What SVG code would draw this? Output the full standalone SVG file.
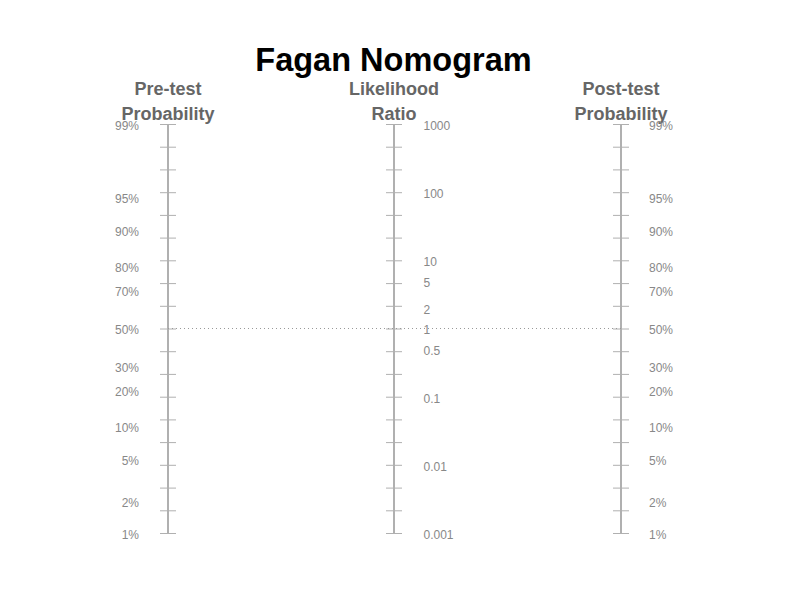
<svg xmlns="http://www.w3.org/2000/svg" width="800" height="600" viewBox="0 0 800 600">
<defs>
<style>
.axis{stroke:#b0b0b0;stroke-width:2;fill:none}
.tick{stroke:#b0b0b0;stroke-width:1;fill:none}
.lbl{font-family:"Liberation Sans",Arial,sans-serif;font-size:12px;fill:#888}
.hdr{font-family:"Liberation Sans",Arial,sans-serif;font-size:18px;font-weight:bold;fill:#666;text-anchor:middle}
.title{font-family:"Liberation Sans",Arial,sans-serif;font-size:32.5px;font-weight:bold;fill:#000;text-anchor:middle}
.dot{stroke:#999;stroke-width:1;stroke-dasharray:1,3;fill:none}
</style>
<g id="ticks">
<path class="tick" d="M-8,124.5h16M-8,147.2h16M-8,169.9h16M-8,192.7h16M-8,215.4h16M-8,238.1h16M-8,260.8h16M-8,283.6h16M-8,306.3h16M-8,329h16M-8,351.7h16M-8,374.4h16M-8,397.2h16M-8,419.9h16M-8,442.6h16M-8,465.3h16M-8,488.1h16M-8,510.8h16M-8,533.5h16"/>
<line class="axis" x1="0" y1="124" x2="0" y2="534"/>
</g>
</defs>
<text class="title" x="393.5" y="71">Fagan Nomogram</text>

<g id="pretest">
<use href="#ticks" x="168" y="0"/>
<text class="hdr" x="168" y="95">Pre-test</text>
<text class="hdr" x="168" y="120">Probability</text>
<g class="lbl" text-anchor="end">
<text x="139" y="129.5">99%</text>
<text x="139" y="202.5">95%</text>
<text x="139" y="236">90%</text>
<text x="139" y="272">80%</text>
<text x="139" y="296">70%</text>
<text x="139" y="334">50%</text>
<text x="139" y="371.5">30%</text>
<text x="139" y="395.5">20%</text>
<text x="139" y="431.5">10%</text>
<text x="139" y="465">5%</text>
<text x="139" y="507">2%</text>
<text x="139" y="538.5">1%</text>
</g>
</g>

<g id="likelihood">
<use href="#ticks" x="394" y="0"/>
<text class="hdr" x="394" y="95">Likelihood</text>
<text class="hdr" x="394" y="120">Ratio</text>
<g class="lbl" text-anchor="start">
<text x="423.5" y="129.5">1000</text>
<text x="423.5" y="197.5">100</text>
<text x="423.5" y="266">10</text>
<text x="423.5" y="286.5">5</text>
<text x="423.5" y="313.5">2</text>
<text x="423.5" y="334">1</text>
<text x="423.5" y="355">0.5</text>
<text x="423.5" y="402.5">0.1</text>
<text x="423.5" y="471">0.01</text>
<text x="423.5" y="539">0.001</text>
</g>
</g>

<g id="posttest">
<use href="#ticks" x="621" y="0"/>
<text class="hdr" x="621" y="95">Post-test</text>
<text class="hdr" x="621" y="120">Probability</text>
<g class="lbl" text-anchor="start">
<text x="649" y="129.5">99%</text>
<text x="649" y="202.5">95%</text>
<text x="649" y="236">90%</text>
<text x="649" y="272">80%</text>
<text x="649" y="296">70%</text>
<text x="649" y="334">50%</text>
<text x="649" y="371.5">30%</text>
<text x="649" y="395.5">20%</text>
<text x="649" y="431.5">10%</text>
<text x="649" y="465">5%</text>
<text x="649" y="507">2%</text>
<text x="649" y="538.5">1%</text>
</g>
</g>

<g id="connectors">
<line class="dot" x1="168" y1="328.5" x2="621" y2="328.5"/>
</g>
</svg>
